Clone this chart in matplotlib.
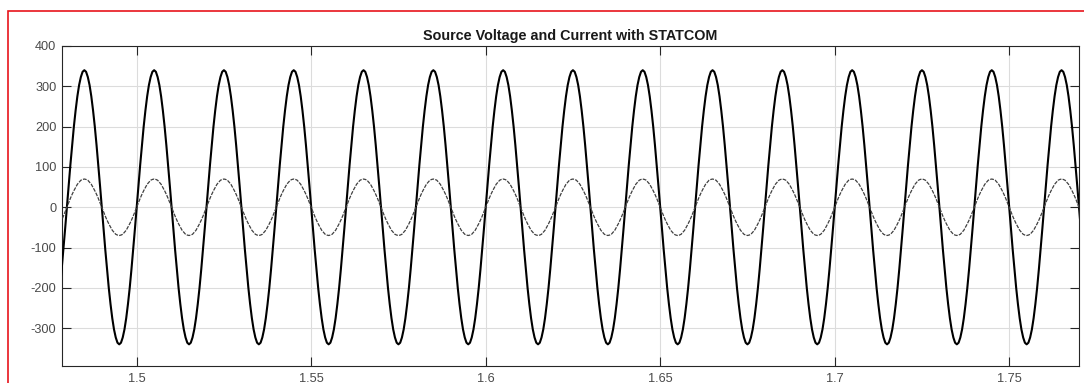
import numpy as np
import matplotlib
matplotlib.use("Agg")
import matplotlib.pyplot as plt
from matplotlib.patches import Rectangle

plt.rcParams['font.family'] = ['Liberation Sans', 'DejaVu Sans']

# ---- data ----
title = "Source Voltage and Current with STATCOM"
# one 50 Hz cycle (20 ms) sampled every 0.5 ms, starting at a rising zero crossing
voltage_cycle = [0, 53, 105, 154, 200, 240, 275, 303, 323, 336,
                 340, 336, 323, 303, 275, 240, 200, 154, 105, 53,
                 0, -53, -105, -154, -200, -240, -275, -303, -323, -336,
                 -340, -336, -323, -303, -275, -240, -200, -154, -105, -53]
current_cycle = [0, 11, 22, 32, 41, 49, 57, 62, 67, 69,
                 70, 69, 67, 62, 57, 49, 41, 32, 22, 11,
                 0, -11, -22, -32, -41, -49, -57, -62, -67, -69,
                 -70, -69, -67, -62, -57, -49, -41, -32, -22, -11]
cycle_start = 1.46        # s, first rising zero crossing before the view
sample_step = 0.0005      # s
n_cycles = 16
xticks = [1.5, 1.55, 1.6, 1.65, 1.7, 1.75]
xtick_labels = ["1.5", "1.55", "1.6", "1.65", "1.7", "1.75"]
yticks = [-300, -200, -100, 0, 100, 200, 300, 400]
ytick_labels = ["-300", "-200", "-100", "0", "100", "200", "300", "400"]

voltage = np.tile(voltage_cycle, n_cycles + 1)
current = np.tile(current_cycle, n_cycles + 1)
voltage = np.append(voltage, voltage_cycle[0])
current = np.append(current, current_cycle[0])
t = cycle_start + sample_step * np.arange(len(voltage))

fig = plt.figure(figsize=(10.84, 3.83), dpi=100)
fig.patch.set_facecolor('white')

# red frame
fig.patches.append(Rectangle((8 / 1084, -0.2), 1.2, 1.2 - 11 / 383,
                             transform=fig.transFigure, fill=False,
                             edgecolor='#e8141b', linewidth=1.2, zorder=0))

ax = fig.add_axes([62 / 1084, 1 - 365.7 / 383, (1079 - 62) / 1084, (365.7 - 46) / 383])
ax.plot(t, voltage, color='black', linewidth=1.5, zorder=3)
ax.plot(t, current, color='#404040', linewidth=0.9, linestyle=(0, (3, 1)), zorder=4)

ax.set_xlim(1.4786, 1.77)
ax.set_ylim(-393, 400)
ax.set_xticks(xticks)
ax.set_xticklabels(xtick_labels)
ax.set_yticks(yticks)
ax.set_yticklabels(ytick_labels)

ax.grid(True, color='#dcdcdc', linewidth=0.8)
ax.set_axisbelow(True)
ax.tick_params(direction='in', length=6.5, width=0.8, colors='#262626',
               labelcolor='#4a4a4a', labelsize=9.2, top=True, right=True,
               pad=5)
ax.tick_params(axis='y', pad=4)
for s in ax.spines.values():
    s.set_color('#262626')
    s.set_linewidth(0.8)

ax.set_title(title, fontsize=10.4, fontweight='bold', color='#1a1a1a', pad=4)

fig.savefig("out.png", dpi=100)
